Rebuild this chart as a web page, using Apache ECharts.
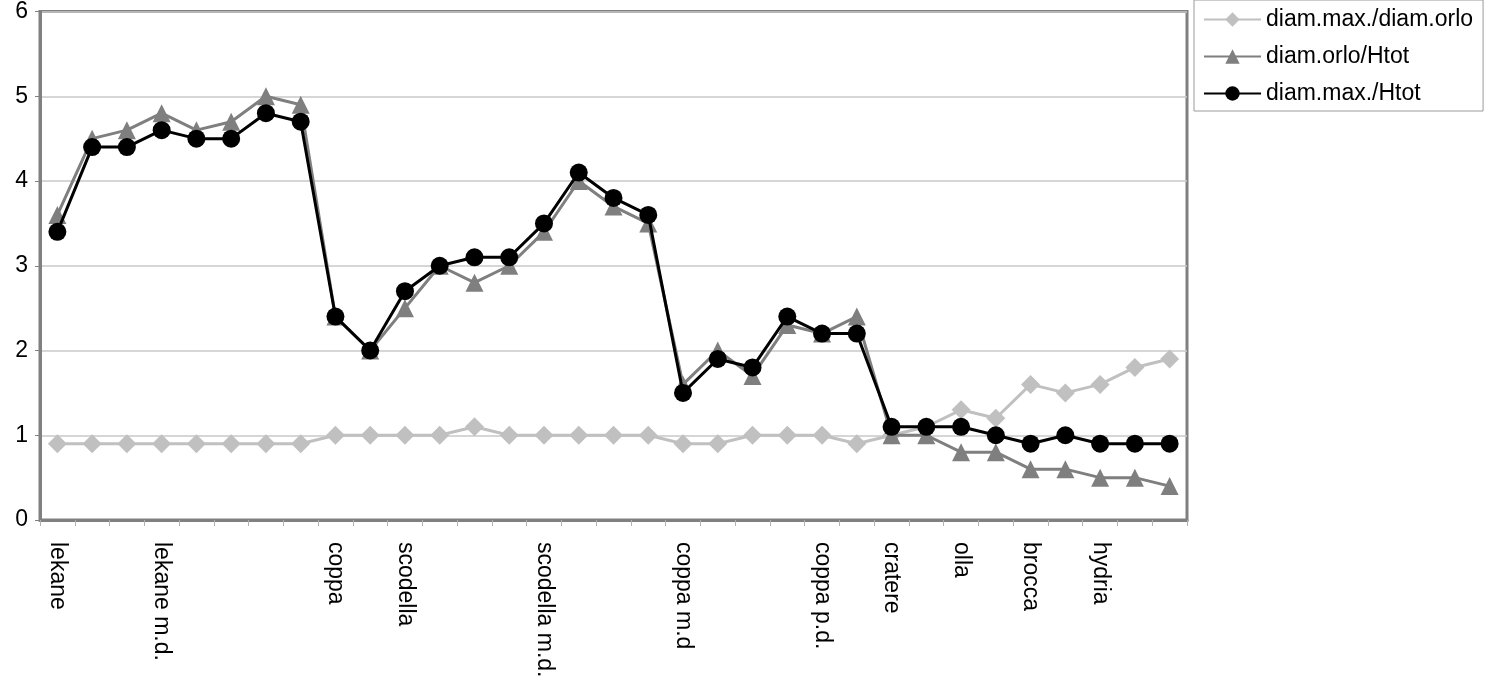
<!DOCTYPE html>
<html>
<head>
<meta charset="utf-8">
<script src="https://cdn.jsdelivr.net/npm/echarts@6/dist/echarts.min.js"></script>
<style>
html,body{margin:0;padding:0;background:#fff;}
#chart{width:1492px;height:684px;}
</style>
</head>
<body>
<div id="chart"></div>
<script>
const categories = ['lekane','','','lekane m.d.','','','','','coppa','','scodella','','','','scodella m.d.','','','','coppa m.d','','','','coppa p.d.','','cratere','','olla','','brocca','','hydria','',''];
const diamMaxDiamOrlo = [0.9,0.9,0.9,0.9,0.9,0.9,0.9,0.9,1.0,1.0,1.0,1.0,1.1,1.0,1.0,1.0,1.0,1.0,0.9,0.9,1.0,1.0,1.0,0.9,1.0,1.1,1.3,1.2,1.6,1.5,1.6,1.8,1.9];
const diamOrloHtot = [3.6,4.5,4.6,4.8,4.6,4.7,5.0,4.9,2.4,2.0,2.5,3.0,2.8,3.0,3.4,4.0,3.7,3.5,1.6,2.0,1.7,2.3,2.2,2.4,1.0,1.0,0.8,0.8,0.6,0.6,0.5,0.5,0.4];
const diamMaxHtot = [3.4,4.4,4.4,4.6,4.5,4.5,4.8,4.7,2.4,2.0,2.7,3.0,3.1,3.1,3.5,4.1,3.8,3.6,1.5,1.9,1.8,2.4,2.2,2.2,1.1,1.1,1.1,1.0,0.9,1.0,0.9,0.9,0.9];
const seriesNames = ['diam.max./diam.orlo','diam.orlo/Htot','diam.max./Htot'];
const yTicks = [0,1,2,3,4,5,6];

const chart = echarts.init(document.getElementById('chart'));
const font = 'Liberation Sans, Arial, sans-serif';
chart.setOption({
  animation:false,
  backgroundColor:'#fff',
  textStyle:{fontFamily:font},
  grid:{left:40,right:305,top:10,bottom:164,show:true,borderColor:'#808080',borderWidth:3,backgroundColor:'transparent'},
  legend:{
    orient:'vertical', left:1194, top:0,
    padding:[8,10,6,9],
    itemGap:14,
    itemWidth:57, itemHeight:18,
    borderColor:'#9a9a9a', borderWidth:1,
    textStyle:{fontSize:23,color:'#000',fontFamily:font,padding:[0,0,0,0]},
    data:seriesNames
  },
  xAxis:{
    type:'category',
    data:categories,
    boundaryGap:true,
    axisLine:{lineStyle:{color:'#808080',width:3}},
    axisTick:{show:true,interval:0,length:6,lineStyle:{color:'#b0b0b0',width:1}},
    axisLabel:{interval:0,rotate:-90,fontSize:23,color:'#000',margin:22,fontFamily:font},
    splitLine:{show:false}
  },
  yAxis:{
    type:'value',min:yTicks[0],max:yTicks[yTicks.length-1],interval:1,
    axisLine:{show:true,lineStyle:{color:'#808080',width:3}},
    axisTick:{show:true,length:5,lineStyle:{color:'#808080',width:1}},
    axisLabel:{fontSize:23,color:'#000',margin:12,fontFamily:font},
    splitLine:{show:true,lineStyle:{color:'#c8c8c8',width:1.5}}
  },
  series:[
    {name:seriesNames[0],type:'line',data:diamMaxDiamOrlo,symbol:'diamond',symbolSize:19,
     lineStyle:{color:'#c0c0c0',width:3},itemStyle:{color:'#c0c0c0'},z:2},
    {name:seriesNames[1],type:'line',data:diamOrloHtot,symbol:'triangle',symbolSize:18,
     lineStyle:{color:'#7f7f7f',width:3},itemStyle:{color:'#7f7f7f'},z:3},
    {name:seriesNames[2],type:'line',data:diamMaxHtot,symbol:'circle',symbolSize:18,
     lineStyle:{color:'#000',width:3},itemStyle:{color:'#000'},z:4}
  ]
});
</script>
</body>
</html>
